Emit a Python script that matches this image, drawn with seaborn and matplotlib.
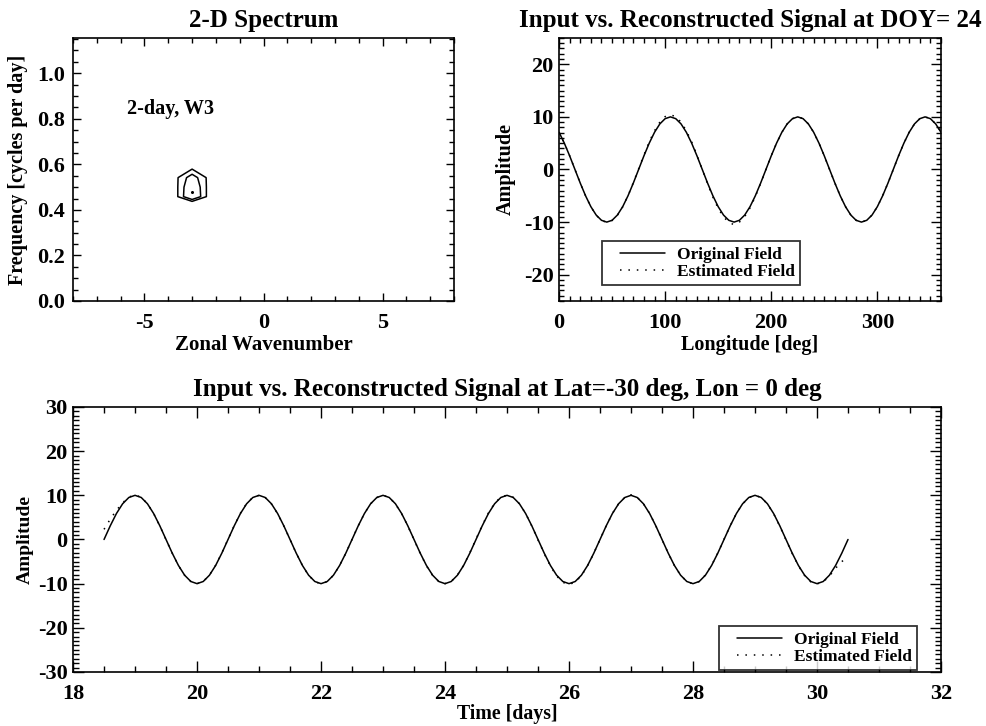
import numpy as np
import pandas as pd
import matplotlib
matplotlib.use("Agg")
import matplotlib.pyplot as plt
from matplotlib.ticker import MultipleLocator, FormatStrFormatter
from matplotlib.legend_handler import HandlerLine2D
import seaborn as sns

# ---------------- data ----------------
# 2-D spectrum patch (rows: frequency, cols: zonal wavenumber)
spec_wavenumber = [-5, -4, -3, -2, -1]
spec_frequency = [0.375, 0.4167, 0.4583, 0.5, 0.5417, 0.5833, 0.625]
spec_power = [
    [0.0, 0.0, 0.0, 0.0, 0.0],
    [0.0, 0.0, 0.0, 0.0, 0.0],
    [0.0, 0.167, 1.0, 0.167, 0.0],
    [0.0, 0.192, 0.962, 0.192, 0.0],
    [0.0, 0.27, 0.83, 0.27, 0.0],
    [0.0, 0.0, 0.463, 0.0, 0.0],
    [0.0, 0.0, 0.0, 0.0, 0.0],
]
spec_levels = [0.5, 0.7]
peak_wavenumber = [-3.0]
peak_frequency = [0.478]

# Amplitude vs longitude at DOY 24
longitude = [0, 5, 10, 15, 20, 25, 30, 35, 40, 45, 50, 55,
             60, 65, 70, 75, 80, 85, 90, 95, 100, 105, 110, 115,
             120, 125, 130, 135, 140, 145, 150, 155, 160, 165, 170, 175,
             180, 185, 190, 195, 200, 205, 210, 215, 220, 225, 230, 235,
             240, 245, 250, 255, 260, 265, 270, 275, 280, 285, 290, 295,
             300, 305, 310, 315, 320, 325, 330, 335, 340, 345, 350, 355, 360]
lon_original = [7.07, 5.0, 2.59, 0.0, -2.59, -5.0, -7.07, -8.66, -9.66, -10.0, -9.66, -8.66,
                -7.07, -5.0, -2.59, 0.0, 2.59, 5.0, 7.07, 8.66, 9.66, 10.0, 9.66, 8.66,
                7.07, 5.0, 2.59, 0.0, -2.59, -5.0, -7.07, -8.66, -9.66, -10.0, -9.66, -8.66,
                -7.07, -5.0, -2.59, 0.0, 2.59, 5.0, 7.07, 8.66, 9.66, 10.0, 9.66, 8.66,
                7.07, 5.0, 2.59, 0.0, -2.59, -5.0, -7.07, -8.66, -9.66, -10.0, -9.66, -8.66,
                -7.07, -5.0, -2.59, 0.0, 2.59, 5.0, 7.07, 8.66, 9.66, 10.0, 9.66, 8.66, 7.07]
lon_estimated = [7.1, 5.0, 2.6, 0.0, -2.6, -5.0, -7.1, -8.7, -9.7, -10.05, -9.7, -8.7,
                 -7.1, -5.0, -2.5, 0.1, 2.75, 5.25, 7.35, 9.0, 10.05, 10.4, 10.05, 9.0,
                 7.35, 5.25, 2.75, 0.0, -2.75, -5.25, -7.4, -9.0, -10.05, -10.5, -10.0, -8.95,
                 -7.3, -5.15, -2.65, 0.0, 2.6, 5.0, 7.07, 8.66, 9.66, 10.0, 9.66, 8.66,
                 7.07, 5.0, 2.59, 0.0, -2.59, -5.0, -7.07, -8.66, -9.66, -10.0, -9.66, -8.66,
                 -7.07, -5.0, -2.59, 0.0, 2.59, 5.0, 7.07, 8.66, 9.66, 10.0, 9.66, 8.66, 7.1]

# Amplitude vs time at Lat=-30, Lon=0
time_days = [18.5, 18.6, 18.7, 18.8, 18.9, 19.0, 19.1, 19.2, 19.3, 19.4,
             19.5, 19.6, 19.7, 19.8, 19.9, 20.0, 20.1, 20.2, 20.3, 20.4,
             20.5, 20.6, 20.7, 20.8, 20.9, 21.0, 21.1, 21.2, 21.3, 21.4,
             21.5, 21.6, 21.7, 21.8, 21.9, 22.0, 22.1, 22.2, 22.3, 22.4,
             22.5, 22.6, 22.7, 22.8, 22.9, 23.0, 23.1, 23.2, 23.3, 23.4,
             23.5, 23.6, 23.7, 23.8, 23.9, 24.0, 24.1, 24.2, 24.3, 24.4,
             24.5, 24.6, 24.7, 24.8, 24.9, 25.0, 25.1, 25.2, 25.3, 25.4,
             25.5, 25.6, 25.7, 25.8, 25.9, 26.0, 26.1, 26.2, 26.3, 26.4,
             26.5, 26.6, 26.7, 26.8, 26.9, 27.0, 27.1, 27.2, 27.3, 27.4,
             27.5, 27.6, 27.7, 27.8, 27.9, 28.0, 28.1, 28.2, 28.3, 28.4,
             28.5, 28.6, 28.7, 28.8, 28.9, 29.0, 29.1, 29.2, 29.3, 29.4,
             29.5, 29.6, 29.7, 29.8, 29.9, 30.0, 30.1, 30.2, 30.3, 30.4, 30.5]
time_original = [0.0, 3.09, 5.88, 8.09, 9.51, 10.0, 9.51, 8.09, 5.88, 3.09,
                 0.0, -3.09, -5.88, -8.09, -9.51, -10.0, -9.51, -8.09, -5.88, -3.09,
                 0.0, 3.09, 5.88, 8.09, 9.51, 10.0, 9.51, 8.09, 5.88, 3.09,
                 0.0, -3.09, -5.88, -8.09, -9.51, -10.0, -9.51, -8.09, -5.88, -3.09,
                 0.0, 3.09, 5.88, 8.09, 9.51, 10.0, 9.51, 8.09, 5.88, 3.09,
                 0.0, -3.09, -5.88, -8.09, -9.51, -10.0, -9.51, -8.09, -5.88, -3.09,
                 0.0, 3.09, 5.88, 8.09, 9.51, 10.0, 9.51, 8.09, 5.88, 3.09,
                 0.0, -3.09, -5.88, -8.09, -9.51, -10.0, -9.51, -8.09, -5.88, -3.09,
                 0.0, 3.09, 5.88, 8.09, 9.51, 10.0, 9.51, 8.09, 5.88, 3.09,
                 0.0, -3.09, -5.88, -8.09, -9.51, -10.0, -9.51, -8.09, -5.88, -3.09,
                 0.0, 3.09, 5.88, 8.09, 9.51, 10.0, 9.51, 8.09, 5.88, 3.09,
                 0.0, -3.09, -5.88, -8.09, -9.51, -10.0, -9.51, -8.09, -5.88, -3.09, 0.0]
time_estimated = [2.3, 4.6, 6.6, 8.3, 9.6, 10.1, 9.55, 8.1, 5.9, 3.05,
                  -0.05, -3.1, -5.9, -8.1, -9.5, -10.0, -9.5, -8.05, -5.85, -3.05,
                  0.05, 3.15, 5.95, 8.15, 9.55, 10.0, 9.5, 8.05, 5.85, 3.05,
                  0.0, -3.1, -5.9, -8.1, -9.55, -10.05, -9.55, -8.1, -5.9, -3.1,
                  0.0, 3.1, 5.9, 8.1, 9.5, 10.0, 9.5, 8.05, 5.85, 3.05,
                  -0.05, -3.15, -5.95, -8.15, -9.55, -10.0, -9.5, -8.05, -5.85, -3.0,
                  0.1, 3.2, 6.0, 8.2, 9.6, 10.05, 9.55, 8.1, 5.9, 3.05,
                  -0.1, -3.2, -6.0, -8.25, -9.7, -10.2, -9.65, -8.2, -5.95, -3.1,
                  0.0, 3.1, 5.9, 8.1, 9.55, 10.1, 9.55, 8.1, 5.9, 3.1,
                  0.0, -3.1, -5.9, -8.1, -9.5, -10.05, -9.5, -8.05, -5.85, -3.05,
                  0.05, 3.1, 5.9, 8.05, 9.5, 10.0, 9.5, 8.05, 5.85, 3.0,
                  -0.1, -3.15, -5.95, -8.15, -9.6, -10.05, -9.6, -8.3, -6.5, -5.0, -3.9]

label_original = "Original Field"
label_estimated = "Estimated Field"

# ---------------- style ----------------
sns.set_style("ticks")
FONT = ["Liberation Serif", "DejaVu Serif"]
plt.rcParams["font.family"] = FONT
plt.rcParams["font.weight"] = "bold"
plt.rcParams["axes.labelweight"] = "bold"
plt.rcParams["axes.titleweight"] = "bold"
plt.rcParams["axes.unicode_minus"] = False
plt.rcParams["axes.linewidth"] = 1.2
plt.rcParams["axes.edgecolor"] = "black"
plt.rcParams["text.color"] = "black"
plt.rcParams["axes.labelcolor"] = "black"
plt.rcParams["xtick.color"] = "black"
plt.rcParams["ytick.color"] = "black"

TICK_FS = 16
TITLE_FS = 18
LEG_FS = 12.5
DOTS = [1, 4.5]

fig = plt.figure(figsize=(9.87, 7.26), dpi=100)
ax1 = fig.add_axes([0.074, 0.5854, 0.386, 0.3623])
ax2 = fig.add_axes([0.5664, 0.5854, 0.3870, 0.3623])
ax3 = fig.add_axes([0.074, 0.0744, 0.8794, 0.3650])


def style_axes(ax, xmaj, xmin, ymaj, ymin, xpad, ypad, maj_len=7, min_len=3.5):
    ax.xaxis.set_major_locator(MultipleLocator(xmaj))
    ax.xaxis.set_minor_locator(MultipleLocator(xmin))
    ax.yaxis.set_major_locator(MultipleLocator(ymaj))
    ax.yaxis.set_minor_locator(MultipleLocator(ymin))
    ax.tick_params(which="both", direction="in", top=True, right=True,
                   width=1.0, colors="black")
    ax.tick_params(which="major", length=maj_len)
    ax.tick_params(which="minor", length=min_len)
    ax.tick_params(axis="x", which="major", pad=xpad, labelsize=TICK_FS)
    ax.tick_params(axis="y", which="major", pad=ypad, labelsize=TICK_FS)
    for lab in ax.get_xticklabels() + ax.get_yticklabels():
        lab.set_fontweight("bold")
    for s in ax.spines.values():
        s.set_visible(True)
        s.set_linewidth(1.2)


def make_legend(ax, **kw):
    handles, labels = ax.get_legend_handles_labels()
    leg = ax.legend(handles, labels, borderaxespad=0, frameon=True, fancybox=False,
                    edgecolor="black", fontsize=LEG_FS, handlelength=3.3,
                    handletextpad=0.7, borderpad=0.3, labelspacing=0.05,
                    handler_map={h: HandlerLine2D(xpad=0.75) for h in handles}, **kw)
    leg.get_frame().set_linewidth(1.3)
    for t in leg.get_texts():
        t.set_fontweight("bold")
    return leg


# ---- panel 1: 2-D spectrum ----
ax1.contour(spec_wavenumber, spec_frequency, np.array(spec_power),
            levels=spec_levels, colors="black", linewidths=1.1)
ax1.plot(peak_wavenumber, peak_frequency, marker="o", markersize=1.2,
         color="black", linestyle="none")
ax1.set_xlim(-8, 8)
ax1.set_ylim(0.0, 1.155)
style_axes(ax1, 5, 1, 0.2, 0.05, xpad=9, ypad=6, maj_len=6, min_len=3.5)
ax1.yaxis.set_major_formatter(FormatStrFormatter("%.1f"))
ax1.set_title("2-D Spectrum", fontsize=TITLE_FS, fontweight="bold", pad=8)
ax1.set_xlabel("Zonal Wavenumber", fontsize=15, fontweight="bold", labelpad=1)
ax1.set_ylabel("Frequency [cycles per day]", fontsize=14.5, fontweight="bold", labelpad=6)
ax1.text(-5.75, 0.845, "2-day, W3", fontsize=14.5, fontweight="bold",
         ha="left", va="center")

# ---- panel 2: longitude ----
df_lon = pd.DataFrame({"lon": longitude, "orig": lon_original, "est": lon_estimated})
sns.lineplot(data=df_lon, x="lon", y="orig", ax=ax2, color="black", linewidth=1.1,
             label=label_original, sort=False)
sns.lineplot(data=df_lon, x="lon", y="est", ax=ax2, color="black", linewidth=1.1,
             label=label_estimated, sort=False)
ax2.lines[1].set_dashes(DOTS)
ax2.set_xlim(0, 360)
ax2.set_ylim(-25, 25)
style_axes(ax2, 100, 10, 10, 1, xpad=9, ypad=4, maj_len=7, min_len=3.5)
ax2.set_title("Input vs. Reconstructed Signal at DOY= 24", fontsize=TITLE_FS,
              fontweight="bold", pad=8)
ax2.set_xlabel("Longitude [deg]", fontsize=14.5, fontweight="bold", labelpad=1)
ax2.set_ylabel("Amplitude", fontsize=14.5, fontweight="bold", labelpad=6)
make_legend(ax2, loc="lower left", bbox_to_anchor=(0.1126, 0.061))

# ---- panel 3: time ----
df_t = pd.DataFrame({"t": time_days, "orig": time_original, "est": time_estimated})
sns.lineplot(data=df_t, x="t", y="orig", ax=ax3, color="black", linewidth=1.1,
             label=label_original, sort=False)
sns.lineplot(data=df_t, x="t", y="est", ax=ax3, color="black", linewidth=1.1,
             label=label_estimated, sort=False)
ax3.lines[1].set_dashes(DOTS)
ax3.set_xlim(18, 32)
ax3.set_ylim(-30, 30)
style_axes(ax3, 2, 0.5, 10, 1, xpad=9, ypad=4, maj_len=8, min_len=4)
ax3.set_title("Input vs. Reconstructed Signal at Lat=-30 deg, Lon = 0 deg",
              fontsize=TITLE_FS, fontweight="bold", pad=8)
ax3.set_xlabel("Time [days]", fontsize=14.3, fontweight="bold", labelpad=0)
ax3.set_ylabel("Amplitude", fontsize=14, fontweight="bold", labelpad=3)
make_legend(ax3, loc="lower right", bbox_to_anchor=(0.9724, 0.0075))

fig.savefig("out.png", dpi=100)
